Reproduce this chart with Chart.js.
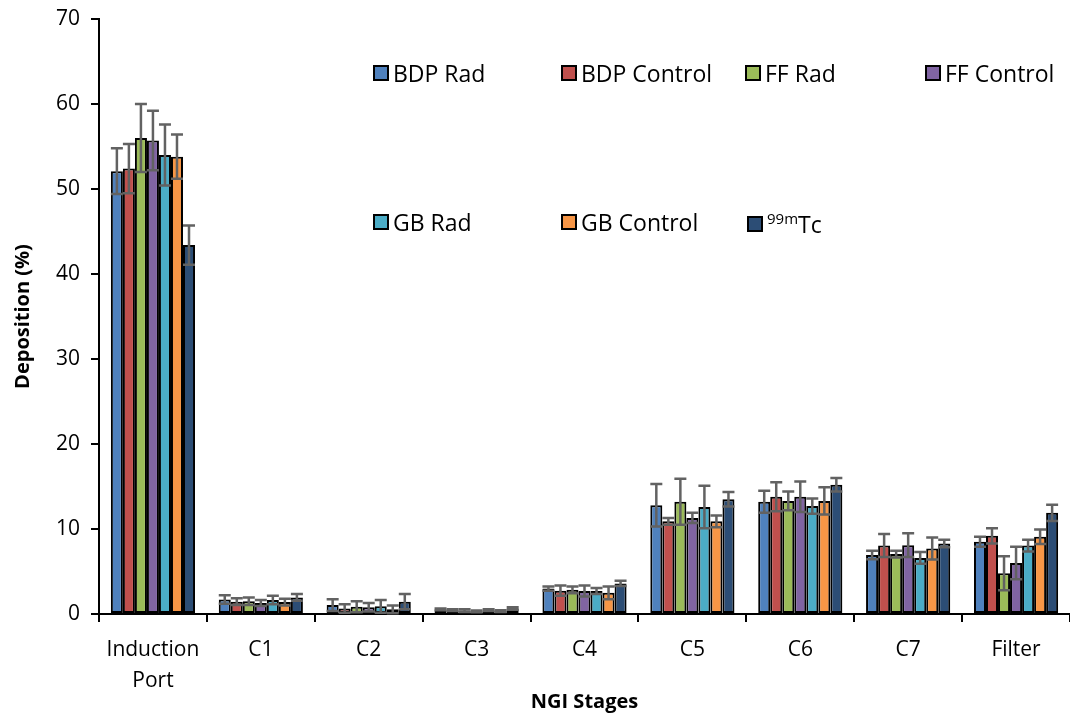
<!DOCTYPE html>
<html>
<head>
<meta charset="utf-8">
<script src="https://cdn.jsdelivr.net/npm/chart.js@4"></script>
<style>
  body { margin: 0; background: #fff; }
  #wrap { position: relative; width: 1070px; height: 716px; }
  .leg { position: absolute; font-family: "Open Sans", sans-serif; font-size: 23px; color: #000; white-space: nowrap; line-height: 1; }
  .leg i { display: inline-block; width: 12px; height: 12px; border: 2px solid #000; margin-right: 4px; vertical-align: 1px; }
  .leg sup { font-size: 15px; vertical-align: 9px; }
</style>
</head>
<body>
<div id="wrap">
  <canvas id="myChart" width="1070" height="716"></canvas>
</div>
<script>
// NGI stages on the x axis
var stages = [['Induction', 'Port'], 'C1', 'C2', 'C3', 'C4', 'C5', 'C6', 'C7', 'Filter'];

// mean deposition (%) per stage
var bdpRad     = [52.1, 1.70, 1.05, 0.55, 3.00, 12.8, 13.2, 6.95, 8.5];
var bdpControl = [52.4, 1.45, 0.65, 0.45, 2.75, 10.9, 13.8, 8.05, 9.2];
var ffRad      = [56.0, 1.50, 0.85, 0.40, 2.85, 13.2, 13.3, 7.05, 4.8];
var ffControl  = [55.7, 1.30, 0.80, 0.30, 2.70, 11.3, 13.8, 8.10, 6.0];
var gbRad      = [54.0, 1.65, 0.90, 0.45, 2.70, 12.6, 12.7, 6.60, 8.05];
var gbControl  = [53.8, 1.40, 0.55, 0.35, 2.50, 10.9, 13.3, 7.70, 9.1];
var tc99m      = [43.4, 1.95, 1.45, 0.65, 3.60, 13.5, 15.2, 8.30, 11.9];

// standard deviations
var bdpRadErr     = [2.7, 0.50, 0.70, 0.10, 0.25, 2.5, 1.3, 0.50, 0.60];
var bdpControlErr = [2.9, 0.40, 0.50, 0.10, 0.60, 0.4, 1.7, 1.35, 0.90];
var ffRadErr      = [4.0, 0.45, 0.65, 0.15, 0.40, 2.7, 1.1, 0.40, 2.00];
var ffControlErr  = [3.5, 0.35, 0.50, 0.10, 0.65, 0.6, 1.8, 1.40, 1.90];
var gbRadErr      = [3.6, 0.50, 0.75, 0.10, 0.35, 2.5, 0.9, 0.70, 0.70];
var gbControlErr  = [2.6, 0.40, 0.45, 0.10, 0.75, 0.7, 1.6, 1.30, 0.85];
var tc99mErr      = [2.3, 0.40, 0.90, 0.15, 0.30, 0.85, 0.8, 0.45, 0.95];

var yTicks = [0, 10, 20, 30, 40, 50, 60, 70];

var series = [
    {label: 'BDP Rad', data: bdpRad, err: bdpRadErr, color: '#4F81BD'},
    {label: 'BDP Control', data: bdpControl, err: bdpControlErr, color: '#C0504D'},
    {label: 'FF Rad', data: ffRad, err: ffRadErr, color: '#9BBB59'},
    {label: 'FF Control', data: ffControl, err: ffControlErr, color: '#8064A2'},
    {label: 'GB Rad', data: gbRad, err: gbRadErr, color: '#4BACC6'},
    {label: 'GB Control', data: gbControl, err: gbControlErr, color: '#F79646'},
    {label: '<sup>99m</sup>Tc', data: tc99m, err: tc99mErr, color: '#2C4D75'}
];

// legend spots, two rows like the original
var legendPos = [[373, 62], [561, 62], [745, 62], [925, 62], [373, 211], [561, 211], [747, 211]];

var errorBars = {
    id: 'errorBars',
    afterDatasetsDraw: function(chart) {
        var ctx = chart.ctx;
        var y = chart.scales.y;
        ctx.save();
        ctx.strokeStyle = '#626262';
        ctx.lineWidth = 2.5;
        chart.data.datasets.forEach(function(ds, i) {
            var meta = chart.getDatasetMeta(i);
            meta.data.forEach(function(bar, j) {
                var v = ds.data[j];
                var e = ds.err[j];
                var top = y.getPixelForValue(v + e);
                var bot = y.getPixelForValue(Math.max(v - e, 0));
                ctx.beginPath();
                ctx.moveTo(bar.x, top);
                ctx.lineTo(bar.x, bot);
                ctx.moveTo(bar.x - 6, top);
                ctx.lineTo(bar.x + 6, top);
                ctx.moveTo(bar.x - 6, bot);
                ctx.lineTo(bar.x + 6, bot);
                ctx.stroke();
            });
        });
        ctx.restore();
    }
};

var datasets = [];
for (var i = 0; i < series.length; i++) {
    datasets.push({
        label: series[i].label,
        data: series[i].data,
        err: series[i].err,
        backgroundColor: series[i].color,
        borderColor: '#000',
        borderWidth: 2,
        borderSkipped: false,
        barPercentage: 1.0,
        categoryPercentage: 0.78
    });

    var div = document.createElement('div');
    div.className = 'leg';
    div.style.left = legendPos[i][0] + 'px';
    div.style.top = legendPos[i][1] + 'px';
    div.innerHTML = "<i style='background:" + series[i].color + "'></i>" + series[i].label;
    document.getElementById('wrap').appendChild(div);
}

var ctx = document.getElementById('myChart').getContext('2d');
var myChart = new Chart(ctx, {
    type: 'bar',
    data: {
        labels: stages,
        datasets: datasets
    },
    plugins: [errorBars],
    options: {
        responsive: false,
        animation: false,
        devicePixelRatio: 1,
        layout: {padding: {top: 19, right: 0, bottom: 0, left: 0}},
        plugins: {
            legend: {display: false},
            tooltip: {enabled: false}
        },
        scales: {
            x: {
                grid: {display: true, drawOnChartArea: false, tickLength: 8, color: '#000', lineWidth: 2, offset: true},
                border: {color: '#000', width: 2},
                ticks: {color: '#000', padding: 12, maxRotation: 0, font: {family: 'Open Sans', size: 21, lineHeight: 1.5}},
                title: {display: true, text: 'NGI Stages', color: '#000', padding: {top: 2, bottom: 2}, font: {family: 'Open Sans', size: 20, weight: 'bold'}},
                afterFit: function(s) { s.height = 102; }
            },
            y: {
                min: 0,
                max: 70,
                afterBuildTicks: function(s) { s.ticks = yTicks.map(function(v) { return {value: v}; }); },
                grid: {display: true, drawOnChartArea: false, tickLength: 8, color: '#000', lineWidth: 2},
                border: {color: '#000', width: 2},
                ticks: {color: '#000', padding: 11, font: {family: 'Open Sans', size: 21}},
                title: {display: true, text: 'Deposition (%)', color: '#000', padding: {top: 11, bottom: 4}, font: {family: 'Open Sans', size: 20, weight: 'bold'}},
                afterFit: function(s) { s.width = 99; s.paddingTop = 0; s.paddingBottom = 0; }
            }
        }
    }
});
</script>
</body>
</html>
